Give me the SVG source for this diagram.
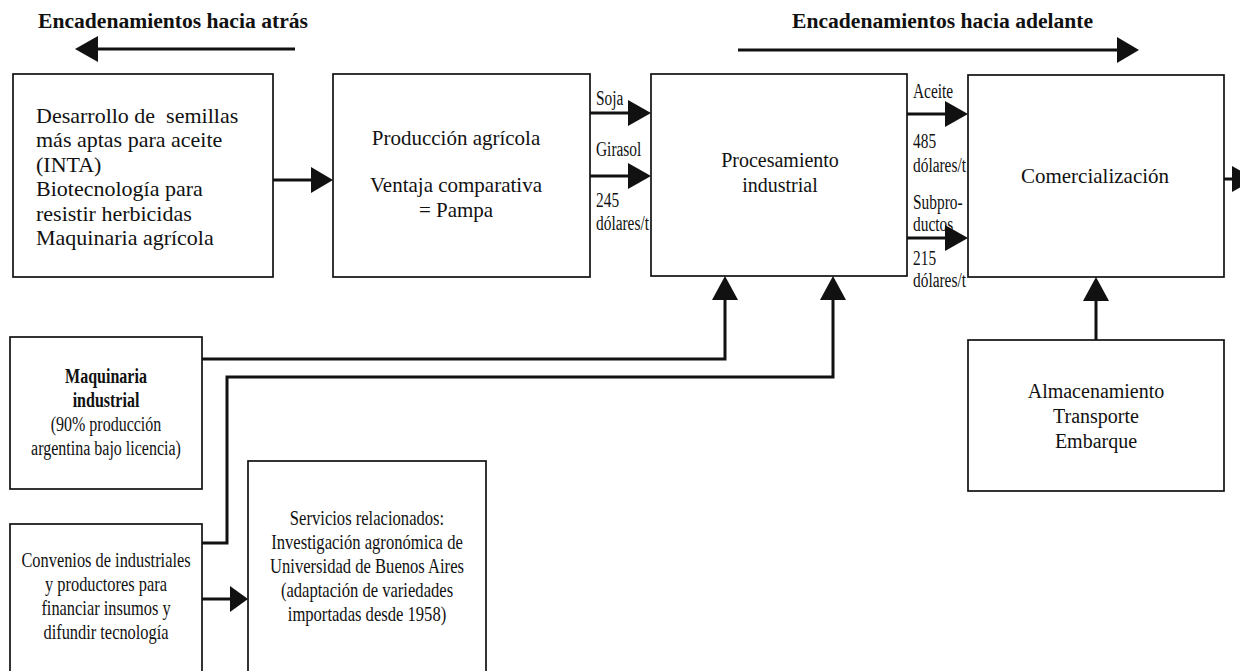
<svg xmlns="http://www.w3.org/2000/svg" width="1240" height="671" viewBox="0 0 1240 671">
<style>
  text { font-family: "Liberation Serif", "Times New Roman", serif; fill: #111; }
  .title { font-size: 21.6px; font-weight: bold; }
  .t22 { font-size: 22px; }
  .t21 { font-size: 21px; text-anchor: middle; }
  .t20 { font-size: 20px; text-anchor: middle; }
  .low { font-size: 20px; text-anchor: middle; }
  .bold { font-weight: bold; }
  .lbl { font-size: 20px; }
  .box { fill: #fff; stroke: #111; stroke-width: 1.7; }
  .conn { fill: none; stroke: #111; stroke-width: 3; }
  .head { fill: #111; stroke: none; }
</style>
<rect width="1240" height="671" fill="#fff"/>

<!-- headings -->
<g id="heading-back">
  <text class="title" x="38" y="28">Encadenamientos hacia atrás</text>
</g>
<g id="heading-forward">
  <text class="title" x="792" y="28">Encadenamientos hacia adelante</text>
</g>

<!-- nodes -->
<g id="n-desarrollo">
  <rect class="box" x="13" y="74" width="260" height="203"/>
  <text class="t22" x="36" y="122.5" xml:space="preserve">Desarrollo de  semillas</text>
  <text class="t22" x="36" y="147">más aptas para aceite</text>
  <text class="t22" x="36" y="171.5">(INTA)</text>
  <text class="t22" x="36" y="196">Biotecnología para</text>
  <text class="t22" x="36" y="220.5">resistir herbicidas</text>
  <text class="t22" x="36" y="245">Maquinaria agrícola</text>
</g>

<g id="n-produccion">
  <rect class="box" x="333" y="74" width="257" height="203"/>
  <text class="t21" x="456" y="145">Producción agrícola</text>
  <text class="t21" x="456" y="192">Ventaja comparativa</text>
  <text class="t21" x="456" y="217">= Pampa</text>
</g>

<g id="n-procesamiento">
  <rect class="box" x="651" y="74" width="256" height="202"/>
  <text class="t20" x="780" y="167">Procesamiento</text>
  <text class="t20" x="780" y="192">industrial</text>
</g>

<g id="n-comercializacion">
  <rect class="box" x="968" y="75" width="256" height="202"/>
  <text class="t21" x="1095" y="183">Comercialización</text>
</g>

<g id="n-maquinaria">
  <rect class="box" x="10" y="337" width="192" height="152"/>
  <g transform="translate(106,0) scale(0.8,1)">
    <text class="low bold" x="0" y="383">Maquinaria</text>
    <text class="low bold" x="0" y="407">industrial</text>
    <text class="low" x="0" y="431">(90% producción</text>
    <text class="low" x="0" y="455">argentina bajo licencia)</text>
  </g>
</g>

<g id="n-convenios">
  <rect class="box" x="10" y="524" width="192" height="170"/>
  <g transform="translate(106,0) scale(0.82,1)">
    <text class="low" x="0" y="567">Convenios de industriales</text>
    <text class="low" x="0" y="591">y productores para</text>
    <text class="low" x="0" y="615">financiar insumos y</text>
    <text class="low" x="0" y="639">difundir tecnología</text>
  </g>
</g>

<g id="n-servicios">
  <rect class="box" x="248" y="461" width="238" height="230"/>
  <g transform="translate(367,0) scale(0.83,1)">
    <text class="low" x="0" y="525">Servicios relacionados:</text>
    <text class="low" x="0" y="549">Investigación agronómica de</text>
    <text class="low" x="0" y="573">Universidad de Buenos Aires</text>
    <text class="low" x="0" y="597">(adaptación de variedades</text>
    <text class="low" x="0" y="621">importadas desde 1958)</text>
  </g>
</g>

<g id="n-almacenamiento">
  <rect class="box" x="968" y="340" width="256" height="151"/>
  <text class="t20" x="1096" y="398">Almacenamiento</text>
  <text class="t20" x="1096" y="423">Transporte</text>
  <text class="t20" x="1096" y="448">Embarque</text>
</g>

<!-- connectors -->
<g id="connectors">
  <!-- heading arrows -->
  <line class="conn" x1="295" y1="49" x2="96" y2="49"/>
  <polygon class="head" points="75,49 98,36 98,62"/>
  <line class="conn" x1="738" y1="50" x2="1119" y2="50"/>
  <polygon class="head" points="1139,50 1117,37 1117,63"/>

  <!-- desarrollo -> produccion -->
  <line class="conn" x1="273" y1="180" x2="313" y2="180"/>
  <polygon class="head" points="333,180 311,167 311,193"/>

  <!-- produccion -> procesamiento (Soja, Girasol) -->
  <line class="conn" x1="590" y1="113" x2="630" y2="113"/>
  <polygon class="head" points="651,113 628,100 628,126"/>
  <line class="conn" x1="590" y1="176" x2="630" y2="176"/>
  <polygon class="head" points="651,176 628,163 628,189"/>

  <!-- procesamiento -> comercializacion (Aceite, Subproductos) -->
  <line class="conn" x1="907" y1="114" x2="947" y2="114"/>
  <polygon class="head" points="968,114 945,101 945,127"/>
  <line class="conn" x1="907" y1="238" x2="947" y2="238"/>
  <polygon class="head" points="968,238 945,225 945,251"/>

  <!-- comercializacion -> out -->
  <line class="conn" x1="1224" y1="179" x2="1234" y2="179"/>
  <polygon class="head" points="1255,179 1232,166 1232,192"/>

  <!-- maquinaria -> procesamiento -->
  <polyline class="conn" points="202,359 725,359 725,298"/>
  <polygon class="head" points="725,276 712,300 738,300"/>

  <!-- convenios -> procesamiento -->
  <polyline class="conn" points="202,543 227,543 227,377 833,377 833,298"/>
  <polygon class="head" points="833,276 820,300 846,300"/>

  <!-- convenios -> servicios -->
  <line class="conn" x1="202" y1="599" x2="232" y2="599"/>
  <polygon class="head" points="248,599 230,586 230,612"/>

  <!-- almacenamiento -> comercializacion -->
  <line class="conn" x1="1096" y1="340" x2="1096" y2="298"/>
  <polygon class="head" points="1096,277 1083,301 1109,301"/>
</g>

<!-- connector labels -->
<g id="connector-labels">
  <text class="lbl" transform="translate(596,105) scale(0.77,1)">Soja</text>
  <text class="lbl" transform="translate(596,156) scale(0.77,1)">Girasol</text>
  <text class="lbl" transform="translate(596,207) scale(0.77,1)">245</text>
  <text class="lbl" transform="translate(596,230) scale(0.77,1)">dólares/t</text>
  <text class="lbl" transform="translate(913,98) scale(0.77,1)">Aceite</text>
  <text class="lbl" transform="translate(913,148) scale(0.77,1)">485</text>
  <text class="lbl" transform="translate(913,172) scale(0.77,1)">dólares/t</text>
  <text class="lbl" transform="translate(913,209) scale(0.77,1)">Subpro-</text>
  <text class="lbl" transform="translate(913,231) scale(0.77,1)">ductos</text>
  <text class="lbl" transform="translate(913,265) scale(0.77,1)">215</text>
  <text class="lbl" transform="translate(913,287) scale(0.77,1)">dólares/t</text>
</g>
</svg>
